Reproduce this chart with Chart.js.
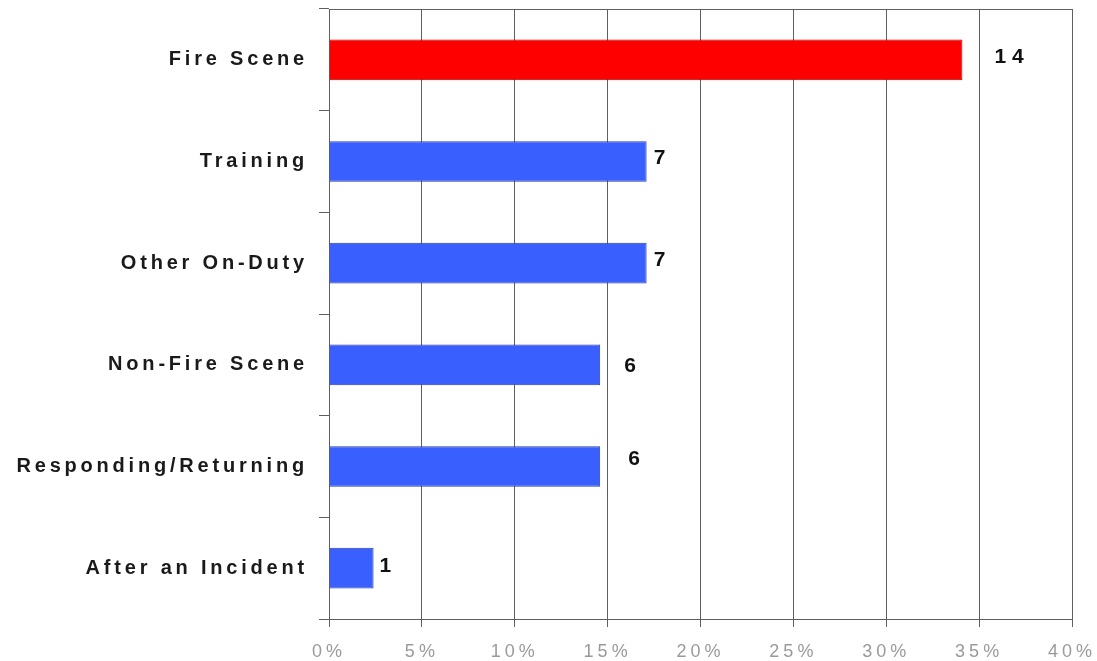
<!DOCTYPE html>
<html>
<head>
<meta charset="utf-8">
<script src="https://cdn.jsdelivr.net/npm/chart.js@4/dist/chart.umd.min.js"></script>
<style>
  html, body { margin: 0; padding: 0; background: #fff; }
  #wrap { width: 1097px; height: 661px; }
</style>
</head>
<body>
<div id="wrap"><canvas id="incidentChart"></canvas></div>
<script>
// categories, top to bottom
const categories = ['Fire Scene', 'Training', 'Other On-Duty', 'Non-Fire Scene', 'Responding/Returning', 'After an Incident'];
// percent of total
const percents = [34.1, 17.1, 17.1, 14.6, 14.6, 2.4];
// counts printed beside each bar
const counts = [14, 7, 7, 6, 6, 1];
const xTicks = [0, 5, 10, 15, 20, 25, 30, 35, 40];

const barColors = ['#ff0000', '#3a5fff', '#3a5fff', '#3a5fff', '#3a5fff', '#3a5fff'];
const barBorders = ['#a00000', '#2a3f9f', '#2a3f9f', '#2a3f9f', '#2a3f9f', '#2a3f9f'];

const lineColor = '#5f5f5f';
const fontFamily = '"Liberation Sans", Arial, sans-serif';

// letter spacing per axis, canvas has no option for it in Chart.js
const spacing = { x: '4px', y: '3.8px' };

const spacedLabels = {
    id: 'spacedLabels',
    afterUpdate(chart) {
        ['x', 'y'].forEach(id => {
            const s = chart.scales[id];
            if (!s || s._spaced) return;
            const orig = s.drawLabels.bind(s);
            s.drawLabels = function (area) {
                chart.ctx.save();
                chart.ctx.letterSpacing = spacing[id];
                orig(area);
                chart.ctx.restore();
            };
            s._spaced = true;
        });
    }
};

// count labels next to the bars
const countLabels = {
    id: 'countLabels',
    afterDatasetsDraw(chart, args, opts) {
        const ctx = chart.ctx;
        const meta = chart.getDatasetMeta(0);
        ctx.save();
        ctx.font = 'bold 21px ' + fontFamily;
        ctx.fillStyle = '#111';
        ctx.textAlign = 'left';
        ctx.textBaseline = 'middle';
        ctx.letterSpacing = '6px';
        meta.data.forEach((bar, i) => {
            const n = opts.nudge[i] || [8, 0];
            ctx.fillText(String(counts[i]), bar.x + n[0], bar.y + n[1]);
        });
        ctx.restore();
    }
};

// keep the axes from pushing the plot area in
function noPad(scale) {
    scale.paddingTop = 0;
    scale.paddingBottom = 0;
    scale.paddingLeft = 0;
    scale.paddingRight = 0;
}

const ctx = document.getElementById('incidentChart').getContext('2d');
const chart = new Chart(ctx, {
    type: 'bar',
    data: {
        labels: categories,
        datasets: [{
            data: percents,
            backgroundColor: barColors,
            borderColor: barBorders,
            borderWidth: 1,
            barPercentage: 0.4,
            categoryPercentage: 1
        }]
    },
    options: {
        indexAxis: 'y',
        responsive: true,
        maintainAspectRatio: false,
        animation: false,
        layout: { padding: { left: 0, top: 9, right: 25, bottom: 0 } },
        plugins: {
            legend: { display: false },
            tooltip: { enabled: false },
            countLabels: {
                nudge: [[32, -3], [7, -3], [7, -3], [24, 1], [28, -7], [6, -2]]
            }
        },
        scales: {
            x: {
                type: 'linear',
                position: 'bottom',
                min: 0,
                max: 40,
                afterBuildTicks: scale => { scale.ticks = xTicks.map(v => ({ value: v })); },
                afterFit: scale => { scale.height = 42; noPad(scale); },
                grid: {
                    color: lineColor,
                    lineWidth: 1,
                    drawTicks: true,
                    tickLength: 8
                },
                border: { display: true, color: lineColor, width: 1 },
                ticks: {
                    padding: 14,
                    color: '#9a9a9a',
                    font: { family: fontFamily, size: 18 },
                    callback: v => v + '%'
                }
            },
            x2: {
                type: 'linear',
                position: 'top',
                min: 0,
                max: 40,
                afterFit: scale => { scale.height = 0; noPad(scale); },
                grid: { display: false },
                border: { display: true, color: lineColor, width: 1 },
                ticks: { display: false }
            },
            y: {
                type: 'category',
                afterFit: scale => { scale.width = 329; noPad(scale); },
                grid: {
                    offset: true,
                    drawOnChartArea: false,
                    drawTicks: true,
                    tickLength: 10,
                    color: lineColor
                },
                border: { display: true, color: lineColor, width: 1 },
                ticks: {
                    padding: 11,
                    color: '#1a1a1a',
                    font: { family: fontFamily, size: 20, weight: 'bold' }
                }
            }
        }
    },
    plugins: [spacedLabels, countLabels]
});
</script>
</body>
</html>
